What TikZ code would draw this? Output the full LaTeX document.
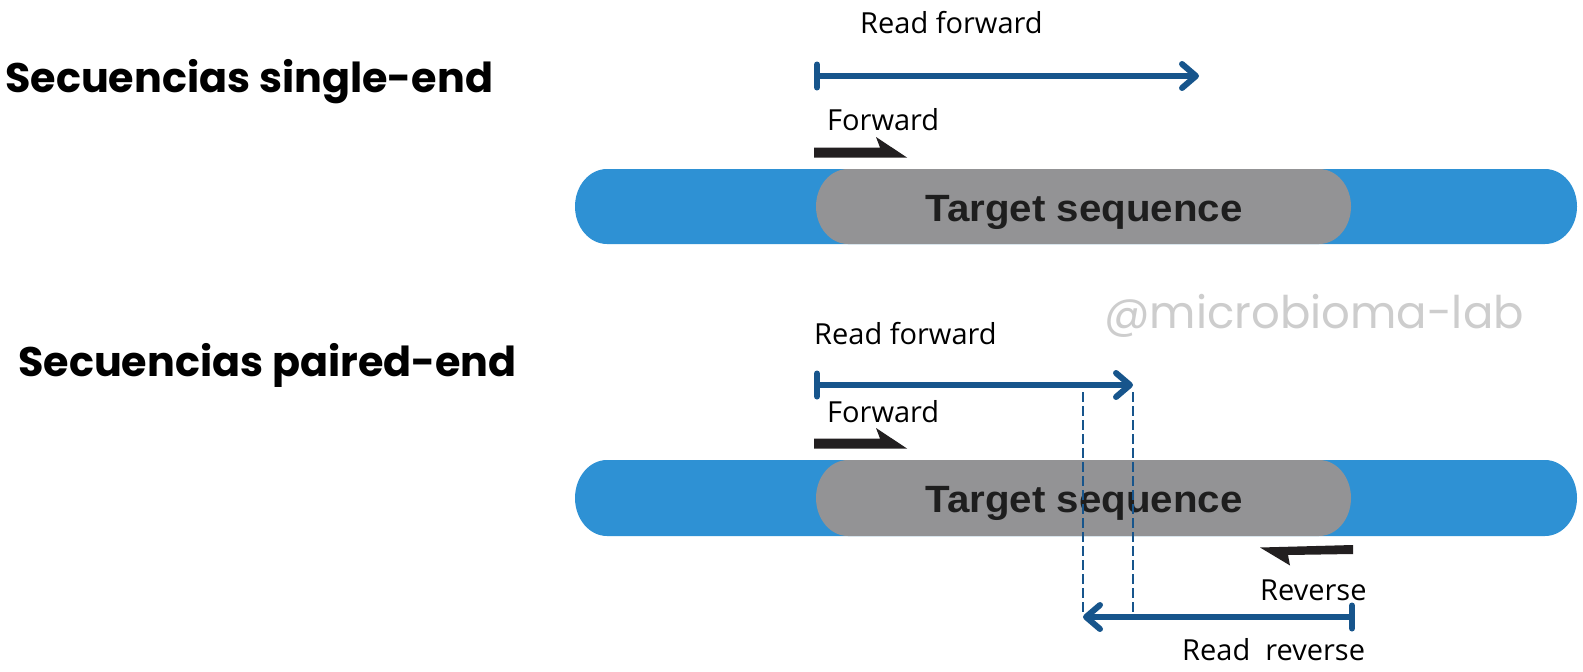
\documentclass[tikz,border=0pt]{standalone}
\usepackage{fontspec}
\setmainfont{Open Sans}
\newfontfamily\popfont{Poppins}
\newfontfamily\libfont{Liberation Sans}
\usetikzlibrary{arrows.meta}
\definecolor{barblue}{RGB}{46,145,212}
\definecolor{seqgray}{RGB}{147,147,149}
\definecolor{readblue}{RGB}{23,85,140}
\definecolor{primer}{RGB}{34,31,32}
\definecolor{wmgray}{RGB}{205,205,205}
\tikzset{
  titletext/.style={font=\popfont\bfseries\fontsize{41.3}{48}\selectfont, inner sep=0pt, anchor=base west, text=black},
  lbl/.style={font=\fontsize{29}{34}\selectfont, inner sep=0pt, anchor=base west, text=black},
  seqtext/.style={font=\libfont\bfseries\fontsize{38}{44}\selectfont, inner sep=0pt, anchor=base, text={rgb,255:red,30;green,30;blue,30}},
  readarrow/.style={draw=readblue, line width=6pt, {Bar[width=23pt,round]}-{Straight Barb[length=14pt,width=24pt,round]}},
  guide/.style={draw=readblue, line width=1.4pt, dash pattern=on 10pt off 4pt},
  primershape/.style={fill=primer},
}
\newcommand{\capsule}[5]{% x1, x2, ytop, ybottom, colour
  \fill[#5] ({#1+32},#3) -- ({#2-32},#3)
    arc[start angle=-90,end angle=90,x radius=32,y radius={(#4-#3)/2}]
    -- ({#1+32},#4)
    arc[start angle=90,end angle=270,x radius=32,y radius={(#4-#3)/2}] -- cycle;}
\begin{document}
\begin{tikzpicture}[x=1pt,y=-1pt]
\useasboundingbox[fill=white] (0,0) rectangle (1583,672);

% titles
\node[titletext] (title1) at (5,92) {Secuencias single-end};
\node[titletext] (title2) at (18,376) {Secuencias paired-end};

% watermark
\node[font=\popfont\fontsize{45}{50}\selectfont, text=wmgray, inner sep=0pt] (wm) at (1314,316) {@microbioma-lab};

% ---------- single-end ----------
\capsule{575}{1577}{169}{244}{barblue}
\capsule{816}{1351}{169}{244}{seqgray}
\node[seqtext, xscale=1.06] (seq1) at (1084,221) {Target sequence};

\node[lbl] (rf1) at (860,33) {Read forward};
\coordinate (rf1s) at (814,76);
\coordinate (rf1e) at (1199,76);
\draw[readarrow] (rf1s) -- (rf1e);

\node[lbl] (fw1) at (827,130) {Forward};
\fill[primershape] (814,147.5) -- (880,147.5) -- (876,137) -- (907,157.5) -- (814,157.5) -- cycle;

% ---------- paired-end ----------
\capsule{575}{1577}{460}{536}{barblue}
\capsule{816}{1351}{460}{536}{seqgray}
\node[seqtext, xscale=1.06] (seq2) at (1084,512) {Target sequence};

\node[lbl] (rf2) at (814,344) {Read forward};
\coordinate (rf2s) at (814,385);
\coordinate (rf2e) at (1133,385);
\draw[readarrow] (rf2s) -- (rf2e);

\node[lbl] (fw2) at (827,422) {Forward};
\fill[primershape] (814,438.5) -- (880,438.5) -- (876,428) -- (907,448.5) -- (814,448.5) -- cycle;

% guide lines
\coordinate (g1t) at (1083,392);
\coordinate (g1b) at (1083,612);
\coordinate (g2t) at (1133,392);
\coordinate (g2b) at (1133,612);
\draw[guide] (g1t) -- (g1b);
\draw[guide] (g2t) -- (g2b);

% reverse primer
\fill[primershape] (1260,547.5) -- (1353,545) -- (1353,554) -- (1288,555) -- (1290,565.5) -- cycle;
\node[lbl] (rv) at (1260,600) {Reverse};

\coordinate (rrs) at (1355,617);
\coordinate (rre) at (1083,617);
\draw[readarrow] (rrs) -- (rre);
\node[lbl] (rr) at (1182,660) {Read\ \ reverse};
\end{tikzpicture}
\end{document}
